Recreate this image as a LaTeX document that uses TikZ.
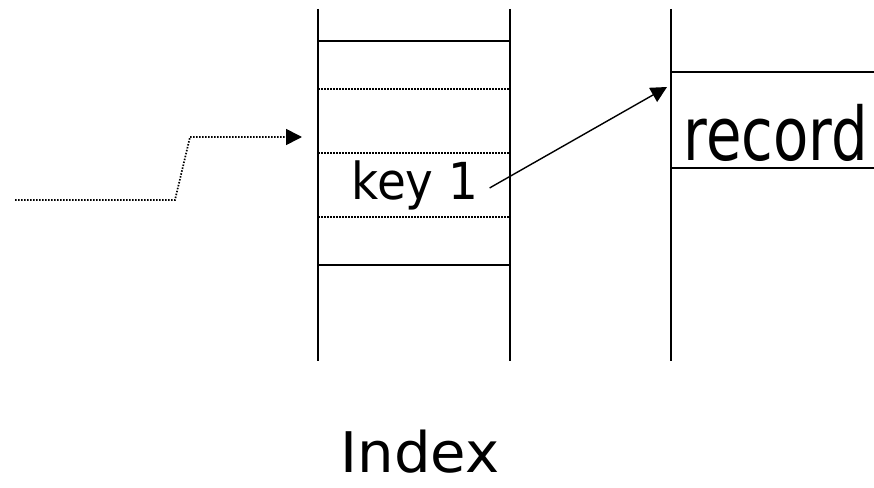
\documentclass[tikz,border=0pt]{standalone}
\usepackage{fontspec}
\usepackage{graphicx}
\setmainfont{DejaVu Sans}
\usetikzlibrary{arrows.meta}

\tikzset{
  wall/.style = {line width=1.7pt},
  slot/.style = {line width=2.2pt},
  sep/.style = {line width=1.7pt, dash pattern=on 1.5pt off 1.5pt},
  ptr/.style = {line width=1.4pt, -{Triangle[length=16pt,width=16pt]}},
  lbl/.style = {inner sep=0pt, anchor=base}
}

\begin{document}
\begin{tikzpicture}[x=1pt,y=-1pt]
    \useasboundingbox (0,0) rectangle (874,487);

    % index column
    \draw[wall] (318,9) -- (318,361);
    \draw[wall] (510,9) -- (510,361);
    \foreach \y in {41,265}
        \draw[slot] (318,\y) -- (510,\y);
    \foreach \y in {89,153,217}
        \draw[sep] (318,\y) -- (510,\y);

    % record column
    \draw[wall] (671,9) -- (671,361);
    \draw[slot] (671,72) -- (874,72);
    \draw[slot] (671,168) -- (874,168);

    \node[lbl] (key) at (415,199)
        {\scalebox{0.92}[1]{\fontsize{51}{60}\selectfont key 1}};
    \node[lbl] (record) at (776,160)
        {\scalebox{0.78}[1]{\fontsize{74}{90}\selectfont record}};
    \node[lbl] (index) at (420,472)
        {\scalebox{1.03}[1]{\fontsize{56}{70}\selectfont Index}};

    \coordinate (search) at (15,200);
    \coordinate (up1) at (175,200);
    \coordinate (up2) at (190,137);
    \coordinate (lookup) at (302,137);
    \coordinate (target) at (667,87);

    \draw[ptr, sep] (search) -- (up1) -- (up2) -- (lookup);
    \draw[ptr] ([xshift=11pt,yshift=-3pt]key.east) -- (target);
\end{tikzpicture}
\end{document}
